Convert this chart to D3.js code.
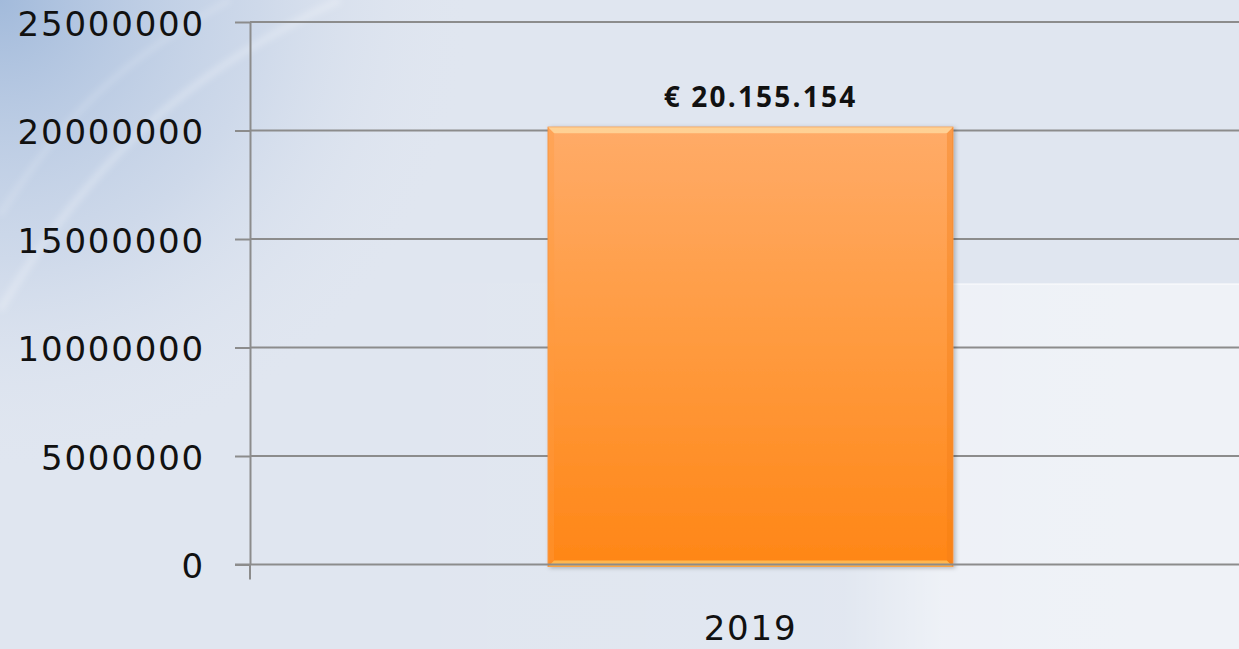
<!DOCTYPE html>
<html>
<head>
<meta charset="utf-8">
<script src="https://cdn.jsdelivr.net/npm/d3@7"></script>
<style>
  html, body { margin: 0; padding: 0; background: #e0e6f0; overflow: hidden; }
  svg { display: block; }
</style>
</head>
<body>
<div id="container"></div>
<script>
// data
const categories = ["2019"];
const values = [20155154];
const valueLabels = ["€ 20.155.154"];
const yTicks = [0, 5000000, 10000000, 15000000, 20000000, 25000000];

var width = 1239;
var height = 649;

var svg = d3.select("#container")
  .append("svg")
  .attr("width", width)
  .attr("height", height);

var defs = svg.append("defs");

// background gradients
var cornerGrad = defs.append("radialGradient")
  .attr("id", "corner").attr("gradientUnits", "userSpaceOnUse")
  .attr("cx", 0).attr("cy", 0).attr("r", 470);
cornerGrad.append("stop").attr("offset", 0).attr("stop-color", "#9fb8da").attr("stop-opacity", 0.95);
cornerGrad.append("stop").attr("offset", 0.55).attr("stop-color", "#bccce4").attr("stop-opacity", 0.5);
cornerGrad.append("stop").attr("offset", 1).attr("stop-color", "#dfe5f0").attr("stop-opacity", 0);

var lightGrad = defs.append("linearGradient")
  .attr("id", "lightArea").attr("x1", 0).attr("x2", 1).attr("y1", 0).attr("y2", 0);
lightGrad.append("stop").attr("offset", 0).attr("stop-color", "#fff").attr("stop-opacity", 0);
lightGrad.append("stop").attr("offset", 0.6).attr("stop-color", "#fff").attr("stop-opacity", 0.05);
lightGrad.append("stop").attr("offset", 0.7).attr("stop-color", "#fff").attr("stop-opacity", 0.45);
lightGrad.append("stop").attr("offset", 1).attr("stop-color", "#fff").attr("stop-opacity", 0.5);

var blur = defs.append("filter").attr("id", "soft");
blur.append("feGaussianBlur").attr("stdDeviation", 3);

var shadow = defs.append("filter").attr("id", "shadow")
  .attr("x", "-5%").attr("y", "-5%").attr("width", "115%").attr("height", "115%");
shadow.append("feDropShadow").attr("dx", 2).attr("dy", 1).attr("stdDeviation", 2)
  .attr("flood-color", "#000").attr("flood-opacity", 0.25);

var barGrad = defs.append("linearGradient")
  .attr("id", "barFill").attr("x1", 0).attr("x2", 0).attr("y1", 0).attr("y2", 1);
barGrad.append("stop").attr("offset", 0).attr("stop-color", "#ffab68");
barGrad.append("stop").attr("offset", 0.5).attr("stop-color", "#ff9a3e");
barGrad.append("stop").attr("offset", 1).attr("stop-color", "#ff8616");

var bg = svg.append("g");
bg.append("rect").attr("width", width).attr("height", height).attr("fill", "#e0e6f0");
bg.append("rect").attr("width", width).attr("height", height).attr("fill", "url(#corner)");
bg.append("path")
  .attr("d", "M0,310 C90,160 190,70 340,0")
  .attr("fill", "none").attr("stroke", "#fff").attr("stroke-opacity", 0.25)
  .attr("stroke-width", 7).attr("filter", "url(#soft)");
bg.append("path")
  .attr("d", "M0,215 C60,120 120,60 230,0")
  .attr("fill", "none").attr("stroke", "#fff").attr("stroke-opacity", 0.18)
  .attr("stroke-width", 5).attr("filter", "url(#soft)");
bg.append("rect").attr("x", 250).attr("y", 284).attr("width", width - 250).attr("height", height - 284)
  .attr("fill", "url(#lightArea)");
bg.append("rect").attr("x", 250).attr("y", 283).attr("width", width - 250).attr("height", 2)
  .attr("fill", "url(#lightArea)");

// scales
var x = d3.scaleBand()
  .domain(categories)
  .range([250, 1251])
  .padding(0.424);

var y = d3.scaleLinear()
  .domain([0, 25000000])
  .range([564.5, 22]);

var gridColor = "#8c8c8c";
var tickFont = "'DejaVu Sans', sans-serif";

// gridlines
svg.append("g")
  .selectAll("line")
  .data(yTicks.filter(t => t !== 0))
  .enter()
  .append("line")
  .attr("x1", 250).attr("x2", width)
  .attr("y1", d => y(d)).attr("y2", d => y(d))
  .attr("stroke", gridColor).attr("stroke-width", 2);

// y axis
var yAxis = svg.append("g")
  .attr("transform", "translate(250,0)")
  .call(d3.axisLeft(y).tickValues(yTicks).tickSizeInner(15).tickSizeOuter(0).tickPadding(30)
    .tickFormat(d3.format("d")));
yAxis.select(".domain").attr("stroke", gridColor).attr("stroke-width", 2);
yAxis.selectAll(".tick line").attr("stroke", gridColor).attr("stroke-width", 2);
yAxis.selectAll(".tick text")
  .attr("dy", "0.39em")
  .style("font-family", tickFont)
  .style("font-size", "34px")
  .style("letter-spacing", "1.8px")
  .attr("fill", "#111");

// category boundary tick below the zero line
svg.append("line")
  .attr("x1", x.range()[0]).attr("x2", x.range()[0])
  .attr("y1", y(0)).attr("y2", y(0) + 15)
  .attr("stroke", gridColor).attr("stroke-width", 2);

// bars
var bars = svg.append("g")
  .selectAll("g")
  .data(values)
  .enter()
  .append("g")
  .attr("filter", "url(#shadow)");

bars.append("rect")
  .attr("x", (d, i) => x(categories[i]))
  .attr("y", d => y(d))
  .attr("width", x.bandwidth())
  .attr("height", d => y(0) - y(d) + 2)
  .attr("fill", "url(#barFill)")
  .attr("stroke", "#f7923c")
  .attr("stroke-width", 1);

// bevel: top highlight and bottom glow
var bev = 6;
bars.append("path")
  .attr("d", (d, i) => {
    var x0 = x(categories[i]), x1 = x0 + x.bandwidth(), t = y(d);
    return `M${x0},${t}L${x1},${t}L${x1 - bev},${t + bev}L${x0 + bev},${t + bev}Z`;
  })
  .attr("fill", "#ffd79c").attr("opacity", 0.85);
bars.append("path")
  .attr("d", (d, i) => {
    var x0 = x(categories[i]), x1 = x0 + x.bandwidth(), b = y(0) + 2;
    return `M${x0},${b}L${x1},${b}L${x1 - bev},${b - bev}L${x0 + bev},${b - bev}Z`;
  })
  .attr("fill", "#ffbb55").attr("opacity", 0.9);
bars.append("path")
  .attr("d", (d, i) => {
    var x0 = x(categories[i]), t = y(d), b = y(0) + 2;
    return `M${x0},${t}L${x0 + bev},${t + bev}L${x0 + bev},${b - bev}L${x0},${b}Z`;
  })
  .attr("fill", "#ff9a40").attr("opacity", 0.35);
bars.append("path")
  .attr("d", (d, i) => {
    var x1 = x(categories[i]) + x.bandwidth(), t = y(d), b = y(0) + 2;
    return `M${x1},${t}L${x1 - bev},${t + bev}L${x1 - bev},${b - bev}L${x1},${b}Z`;
  })
  .attr("fill", "#f07a10").attr("opacity", 0.35);

// zero line drawn over bar bottom
svg.append("line")
  .attr("x1", 235).attr("x2", width)
  .attr("y1", y(0)).attr("y2", y(0))
  .attr("stroke", gridColor).attr("stroke-width", 2);

// value labels
svg.append("g")
  .selectAll("text")
  .data(values)
  .enter()
  .append("text")
  .attr("x", (d, i) => x(categories[i]) + x.bandwidth() / 2 + 10)
  .attr("y", d => y(d) - 20)
  .attr("text-anchor", "middle")
  .style("font-family", "'Open Sans', sans-serif")
  .style("font-weight", "bold")
  .style("font-size", "28px")
  .style("letter-spacing", "2.2px")
  .attr("fill", "#111")
  .text((d, i) => valueLabels[i]);

// x axis
var xAxis = svg.append("g")
  .attr("transform", `translate(0,${y(0)})`)
  .call(d3.axisBottom(x).tickSize(0).tickPadding(51));
xAxis.select(".domain").remove();
xAxis.selectAll(".tick text")
  .attr("dy", null)
  .attr("y", 75)
  .style("font-family", tickFont)
  .style("font-size", "34px")
  .style("letter-spacing", "1.8px")
  .attr("fill", "#111");
</script>
</body>
</html>
